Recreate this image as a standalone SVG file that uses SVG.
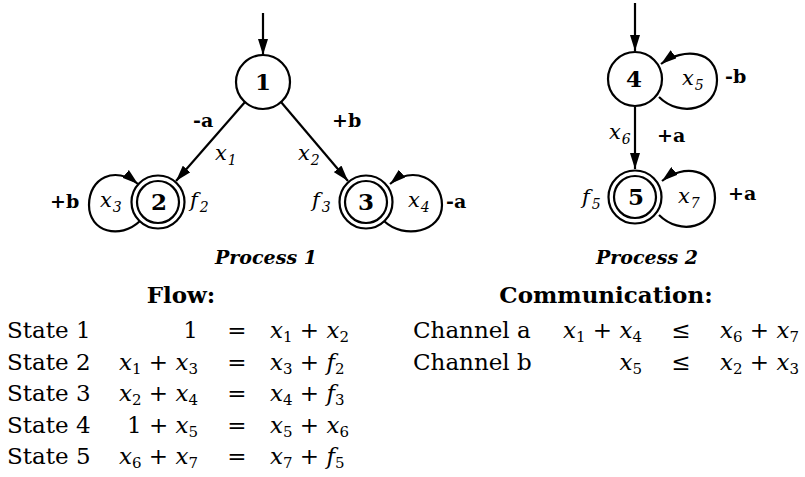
<svg xmlns="http://www.w3.org/2000/svg" width="805" height="477" viewBox="0 0 805 477" font-family="DejaVu Serif, serif">
  <style>
    text { font-family: "DejaVu Serif", serif; fill: #000; }
    .ring { fill: none; stroke: #000; stroke-width: 2.2; }
    .edge { fill: none; stroke: #000; stroke-width: 2.2; marker-end: url(#ah); }
    .num { font-weight: bold; font-size: 23px; text-anchor: middle; }
    .lbl { font-weight: bold; font-size: 19px; }
    .var { font-style: italic; font-size: 21px; }
    .vs { font-size: 14px; }
    .cap { font-weight: bold; font-style: italic; font-size: 19px; }
    .head { font-weight: bold; font-size: 26px; }
    .eq text { font-size: 23px; }
    .i { font-style: italic; }
    .s { font-size: 15px; }
    .mid { text-anchor: middle; }
    .end { text-anchor: end; }
  </style>
  <defs>
    <marker id="ah" markerUnits="userSpaceOnUse" markerWidth="16" markerHeight="10" refX="16" refY="5" orient="auto">
      <path d="M0,0 L16,5 L0,10 z" fill="#000"/>
    </marker>
  </defs>

  <!-- transitions -->
  <g id="connectors">
    <path class="edge" d="M263 13 L263 55"/>
    <path class="edge" d="M245 102 L176 181"/>
    <path class="edge" d="M281 102 L348 181"/>
    <path class="edge" d="M140 221 C120 240, 89 232, 89 205 C89 178, 115 165, 138 184"/>
    <path class="edge" d="M384 221 C404 240, 442 232, 442 205 C442 178, 412 165, 390 184"/>
    <path class="edge" d="M635 3 L635 51"/>
    <path class="edge" d="M635 107 L635 169"/>
    <path class="edge" d="M659 97 C680 118, 717 110, 717 80 C717 50, 683 47, 661 64"/>
    <path class="edge" d="M659 215 C680 236, 715 228, 715 198 C715 168, 683 164, 662 181"/>
  </g>

  <!-- Process 1 -->
  <g id="state1">
    <circle class="ring" cx="263" cy="82" r="27"/>
    <text class="num" x="263" y="90">1</text>
  </g>
  <g id="state2">
    <circle class="ring" cx="158" cy="202" r="26.5"/>
    <circle class="ring" cx="158" cy="202" r="21"/>
    <text class="num" x="159" y="210">2</text>
  </g>
  <g id="state3">
    <circle class="ring" cx="366" cy="202" r="26.5"/>
    <circle class="ring" cx="366" cy="202" r="21"/>
    <text class="num" x="366" y="210">3</text>
  </g>

  <g id="labels1">
    <text class="lbl" x="193" y="127">-a</text>
    <text class="lbl" x="332" y="127">+b</text>
    <text class="var" x="215" y="160">x<tspan class="vs" dx="1" dy="5">1</tspan></text>
    <text class="var" x="298" y="160">x<tspan class="vs" dx="1" dy="5">2</tspan></text>
    <text class="lbl" x="50" y="208">+b</text>
    <text class="var" x="100" y="207">x<tspan class="vs" dx="1" dy="5">3</tspan></text>
    <text class="var" x="190" y="207">f<tspan class="vs" dx="2" dy="5">2</tspan></text>
    <text class="var" x="312" y="207">f<tspan class="vs" dx="2" dy="5">3</tspan></text>
    <text class="var" x="408" y="207">x<tspan class="vs" dx="1" dy="5">4</tspan></text>
    <text class="lbl" x="446" y="208">-a</text>
    <text class="cap mid" x="266" y="264">Process 1</text>
  </g>

  <!-- Process 2 -->
  <g id="state4">
    <circle class="ring" cx="635" cy="79" r="27"/>
    <text class="num" x="634" y="87">4</text>
  </g>
  <g id="state5">
    <circle class="ring" cx="635" cy="197" r="26.5"/>
    <circle class="ring" cx="635" cy="197" r="21"/>
    <text class="num" x="636" y="205">5</text>
  </g>

  <g id="labels2">
    <text class="var" x="682" y="85">x<tspan class="vs" dx="1" dy="5">5</tspan></text>
    <text class="lbl" x="725" y="83">-b</text>
    <text class="var" x="609" y="139">x<tspan class="vs" dx="1" dy="5">6</tspan></text>
    <text class="lbl" x="657" y="142">+a</text>
    <text class="var" x="582" y="204">f<tspan class="vs" dx="2" dy="5">5</tspan></text>
    <text class="var" x="678" y="203">x<tspan class="vs" dx="1" dy="5">7</tspan></text>
    <text class="lbl" x="728" y="200">+a</text>
    <text class="cap mid" x="647" y="264">Process 2</text>
  </g>

  <!-- Flow equations -->
  <g id="flow" class="eq">
    <text class="head mid" x="181" y="303">Flow:</text>

    <text x="7" y="338">State 1</text>
    <text class="end" x="198" y="338">1</text>
    <text class="mid" x="237" y="338">=</text>
    <text x="270" y="338"><tspan class="i">x</tspan><tspan class="s" dy="4">1</tspan><tspan dy="-4"> + </tspan><tspan class="i">x</tspan><tspan class="s" dy="4">2</tspan></text>

    <text x="7" y="370">State 2</text>
    <text class="end" x="198" y="370"><tspan class="i">x</tspan><tspan class="s" dy="4">1</tspan><tspan dy="-4"> + </tspan><tspan class="i">x</tspan><tspan class="s" dy="4">3</tspan></text>
    <text class="mid" x="237" y="370">=</text>
    <text x="270" y="370"><tspan class="i">x</tspan><tspan class="s" dy="4">3</tspan><tspan dy="-4"> + </tspan><tspan class="i">f</tspan><tspan class="s" dy="4">2</tspan></text>

    <text x="7" y="401">State 3</text>
    <text class="end" x="198" y="401"><tspan class="i">x</tspan><tspan class="s" dy="4">2</tspan><tspan dy="-4"> + </tspan><tspan class="i">x</tspan><tspan class="s" dy="4">4</tspan></text>
    <text class="mid" x="237" y="401">=</text>
    <text x="270" y="401"><tspan class="i">x</tspan><tspan class="s" dy="4">4</tspan><tspan dy="-4"> + </tspan><tspan class="i">f</tspan><tspan class="s" dy="4">3</tspan></text>

    <text x="7" y="433">State 4</text>
    <text class="end" x="198" y="433">1 + <tspan class="i">x</tspan><tspan class="s" dy="4">5</tspan></text>
    <text class="mid" x="237" y="433">=</text>
    <text x="270" y="433"><tspan class="i">x</tspan><tspan class="s" dy="4">5</tspan><tspan dy="-4"> + </tspan><tspan class="i">x</tspan><tspan class="s" dy="4">6</tspan></text>

    <text x="7" y="464">State 5</text>
    <text class="end" x="198" y="464"><tspan class="i">x</tspan><tspan class="s" dy="4">6</tspan><tspan dy="-4"> + </tspan><tspan class="i">x</tspan><tspan class="s" dy="4">7</tspan></text>
    <text class="mid" x="237" y="464">=</text>
    <text x="270" y="464"><tspan class="i">x</tspan><tspan class="s" dy="4">7</tspan><tspan dy="-4"> + </tspan><tspan class="i">f</tspan><tspan class="s" dy="4">5</tspan></text>
  </g>

  <!-- Communication constraints -->
  <g id="communication" class="eq">
    <text class="head mid" x="606" y="303">Communication:</text>

    <text x="413" y="338">Channel a</text>
    <text class="end" x="642" y="338"><tspan class="i">x</tspan><tspan class="s" dy="4">1</tspan><tspan dy="-4"> + </tspan><tspan class="i">x</tspan><tspan class="s" dy="4">4</tspan></text>
    <text class="mid" x="681" y="338">≤</text>
    <text x="720" y="338"><tspan class="i">x</tspan><tspan class="s" dy="4">6</tspan><tspan dy="-4"> + </tspan><tspan class="i">x</tspan><tspan class="s" dy="4">7</tspan></text>

    <text x="413" y="370">Channel b</text>
    <text class="end" x="642" y="370"><tspan class="i">x</tspan><tspan class="s" dy="4">5</tspan></text>
    <text class="mid" x="681" y="370">≤</text>
    <text x="720" y="370"><tspan class="i">x</tspan><tspan class="s" dy="4">2</tspan><tspan dy="-4"> + </tspan><tspan class="i">x</tspan><tspan class="s" dy="4">3</tspan></text>
  </g>
</svg>
